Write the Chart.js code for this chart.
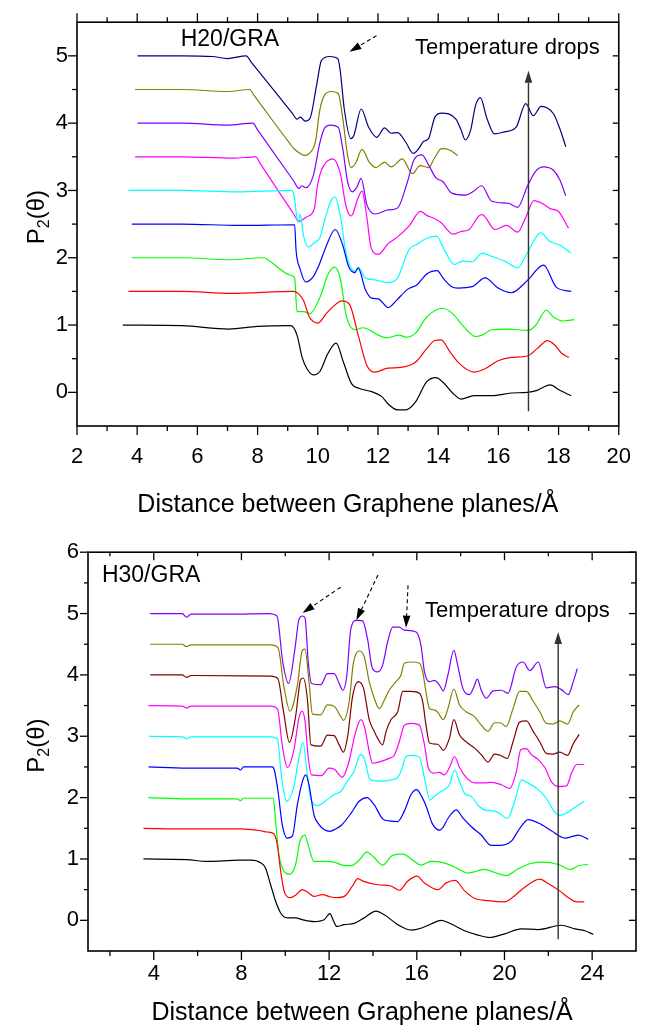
<!DOCTYPE html>
<html lang="en">
<head>
<meta charset="UTF-8">
<title>P2(θ) vs distance between graphene planes</title>
<script src="https://cdn.jsdelivr.net/npm/chart.js"></script>
<style>
  body { margin: 0; background: #fff; }
  canvas { position: absolute; left: 0; }
  #topChart { top: 0; }
  #bottomChart { top: 530px; }
</style>
</head>
<body>
<canvas id="topChart" width="649" height="530"></canvas>
<canvas id="bottomChart" width="649" height="497"></canvas>
<script>
// ---------- H20/GRA (top panel) ----------
const h20XTicks = [2, 4, 6, 8, 10, 12, 14, 16, 18, 20];
const h20XMinor = [3, 5, 7, 9, 11, 13, 15, 17, 19];
const h20YTicks = [0, 1, 2, 3, 4, 5];
const h20YMinor = [0.5, 1.5, 2.5, 3.5, 4.5];

const h20Navy = [[4.01,5.0],[5.5,5.0],[6.5,4.99],[7.0,4.96],[7.62,5.0],[7.8,4.9],[9.15,4.15],[9.31,4.06],[9.42,4.09],[9.58,4.03],[9.74,4.07],[9.96,4.56],[10.12,4.93],[10.39,4.99],[10.66,4.96],[10.74,4.8],[10.88,4.21],[11.1,3.77],[11.2,3.82],[11.44,4.21],[11.69,3.94],[11.96,3.79],[12.22,3.93],[12.44,3.85],[12.65,3.86],[12.92,3.72],[13.17,3.55],[13.35,3.62],[13.52,3.73],[13.68,3.77],[13.89,4.09],[14.11,4.15],[14.59,4.06],[14.76,3.9],[14.9,3.75],[15.08,3.9],[15.24,4.26],[15.4,4.38],[15.62,4.07],[15.87,3.84],[16.2,3.87],[16.59,3.94],[16.91,4.29],[17.16,4.11],[17.42,4.25],[17.83,4.14],[18.04,3.92],[18.24,3.65]];
const h20Olive = [[3.93,4.5],[5.5,4.5],[7.0,4.47],[7.73,4.5],[7.9,4.4],[9.05,3.71],[9.21,3.62],[9.58,3.52],[9.72,3.55],[9.92,3.72],[10.07,4.2],[10.23,4.42],[10.45,4.47],[10.68,4.44],[10.83,4.07],[10.99,3.52],[11.1,3.34],[11.25,3.4],[11.47,3.61],[11.71,3.42],[11.93,3.34],[12.22,3.42],[12.44,3.35],[12.81,3.47],[13.14,3.25],[13.4,3.37],[13.68,3.34],[13.89,3.49],[14.11,3.62],[14.38,3.6],[14.65,3.52]];
const h20Violet = [[4.01,4.0],[5.5,4.0],[7.0,3.97],[7.84,4.0],[8.0,3.9],[9.2,3.14],[9.37,3.03],[9.47,3.07],[9.6,3.04],[9.85,3.22],[10.07,3.71],[10.23,3.93],[10.42,3.97],[10.68,3.94],[10.83,3.62],[10.99,3.13],[11.15,2.98],[11.3,3.05],[11.44,3.18],[11.63,2.79],[11.9,2.65],[12.34,2.71],[12.65,2.74],[12.98,3.13],[13.19,3.45],[13.46,3.53],[13.68,3.38],[13.92,3.19],[14.16,3.13],[14.45,2.96],[14.92,2.93],[15.15,2.98],[15.44,3.07],[15.78,2.84],[16.32,2.81],[16.64,2.75],[16.96,3.06],[17.23,3.28],[17.5,3.35],[17.83,3.3],[18.04,3.16],[18.24,2.92]];
const h20Magenta = [[3.93,3.5],[5.5,3.5],[7.2,3.48],[7.94,3.5],[8.1,3.39],[9.2,2.65],[9.37,2.54],[9.64,2.61],[9.88,2.72],[10.0,3.1],[10.12,3.3],[10.28,3.42],[10.5,3.47],[10.75,3.25],[10.93,2.78],[11.11,2.62],[11.34,2.89],[11.47,2.99],[11.63,2.6],[11.77,2.15],[12.01,2.05],[12.34,2.21],[12.65,2.31],[13.03,2.47],[13.41,2.69],[13.62,2.63],[13.84,2.59],[14.1,2.52],[14.49,2.35],[14.76,2.39],[15.03,2.42],[15.35,2.62],[15.46,2.64],[15.89,2.42],[16.27,2.48],[16.64,2.38],[16.91,2.6],[17.18,2.85],[17.45,2.81],[17.72,2.73],[17.99,2.69],[18.33,2.44]];
const h20Cyan = [[3.71,3.0],[5.5,3.0],[7.3,2.98],[9.13,3.0],[9.22,2.9],[9.34,2.52],[9.42,2.64],[9.52,2.34],[9.69,2.16],[9.88,2.22],[10.07,2.3],[10.28,2.64],[10.45,2.86],[10.58,2.9],[10.74,2.64],[10.93,2.1],[11.1,1.85],[11.25,1.8],[11.36,1.85],[11.58,1.7],[11.9,1.67],[12.34,1.63],[12.65,1.7],[13.03,2.12],[13.3,2.2],[13.62,2.29],[13.94,2.32],[14.2,2.12],[14.54,1.9],[14.81,1.95],[15.13,1.94],[15.46,2.07],[15.78,2.02],[16.21,1.95],[16.64,1.85],[16.96,2.07],[17.4,2.37],[17.72,2.24],[18.04,2.19],[18.42,2.07]];
const h20Blue = [[3.82,2.5],[5.5,2.5],[7.4,2.48],[9.23,2.49],[9.28,2.1],[9.4,1.85],[9.6,1.64],[9.85,1.72],[10.05,1.9],[10.26,2.15],[10.58,2.42],[10.82,2.2],[11.04,1.85],[11.23,1.78],[11.34,1.85],[11.58,1.53],[11.79,1.4],[12.01,1.39],[12.34,1.26],[12.6,1.36],[12.98,1.53],[13.3,1.6],[13.62,1.76],[13.97,1.81],[14.16,1.7],[14.45,1.57],[14.65,1.55],[15.13,1.57],[15.56,1.7],[15.99,1.55],[16.43,1.48],[16.96,1.66],[17.5,1.89],[17.93,1.56],[18.42,1.5]];
const h20Green = [[3.82,2.0],[5.5,2.0],[7.05,1.97],[8.22,2.0],[8.4,1.95],[9.1,1.74],[9.23,1.7],[9.31,1.2],[9.53,1.2],[9.74,1.17],[10.07,1.41],[10.34,1.75],[10.55,1.86],[10.74,1.71],[10.93,1.17],[11.05,1.0],[11.25,0.93],[11.5,0.96],[12.01,0.85],[12.28,0.81],[12.71,0.85],[12.92,0.82],[13.25,0.88],[13.62,1.12],[14.15,1.25],[14.48,1.17],[14.86,0.97],[15.24,0.83],[15.46,0.85],[15.78,0.93],[16.37,0.94],[16.96,0.92],[17.23,0.99],[17.59,1.22],[17.83,1.12],[18.15,1.06],[18.53,1.08]];
const h20Red = [[3.71,1.5],[5.5,1.5],[7.1,1.47],[9.21,1.5],[9.37,1.46],[9.53,1.36],[9.72,1.12],[10.01,1.03],[10.28,1.17],[10.5,1.27],[10.8,1.36],[11.05,1.31],[11.36,0.82],[11.63,0.4],[11.9,0.3],[12.33,0.36],[12.76,0.37],[13.25,0.45],[13.62,0.65],[13.89,0.77],[14.1,0.78],[14.38,0.61],[14.7,0.43],[15.19,0.3],[15.56,0.35],[15.99,0.47],[16.43,0.52],[16.96,0.54],[17.29,0.65],[17.63,0.77],[17.88,0.7],[18.1,0.58],[18.34,0.52]];
const h20Black = [[3.52,1.0],[5.5,0.99],[7.05,0.94],[8.0,0.98],[9.1,0.99],[9.31,0.85],[9.48,0.52],[9.64,0.35],[9.85,0.26],[10.07,0.31],[10.34,0.58],[10.61,0.73],[10.85,0.45],[11.12,0.13],[11.36,0.06],[11.79,0.01],[12.12,-0.06],[12.33,-0.17],[12.65,-0.26],[12.92,-0.26],[13.25,-0.14],[13.62,0.16],[13.93,0.22],[14.16,0.15],[14.48,-0.01],[14.76,-0.1],[15.19,-0.05],[15.78,-0.05],[16.43,-0.01],[16.96,0.0],[17.29,0.03],[17.72,0.11],[18.04,0.03],[18.42,-0.05]];

// ---------- H30/GRA (bottom panel) ----------
const h30XTicks = [4, 8, 12, 16, 20, 24];
const h30XMinor = [2, 6, 10, 14, 18, 22];
const h30YTicks = [0, 1, 2, 3, 4, 5, 6];
const h30YMinor = [0.5, 1.5, 2.5, 3.5, 4.5, 5.5];

const h30Violet = [[3.84,5.0],[5.3,5.0],[5.49,4.94],[5.7,4.99],[7.5,4.99],[9.25,5.0],[9.62,4.96],[9.88,4.22],[10.15,3.86],[10.45,4.45],[10.62,4.9],[10.78,4.96],[10.9,4.93],[11.05,4.2],[11.2,3.86],[11.62,3.84],[11.92,4.02],[12.23,4.02],[12.46,3.86],[12.63,3.75],[12.8,3.97],[12.99,4.75],[13.25,4.89],[13.53,4.88],[13.75,4.59],[13.98,4.1],[14.21,4.05],[14.44,4.16],[14.67,4.54],[14.9,4.78],[15.2,4.78],[15.43,4.73],[15.97,4.7],[16.19,4.48],[16.35,4.05],[16.58,3.89],[16.81,3.91],[17.04,3.83],[17.21,3.74],[17.42,4.0],[17.69,4.4],[17.87,4.15],[18.1,3.78],[18.41,3.68],[18.6,3.8],[18.76,3.93],[18.94,3.75],[19.17,3.62],[19.48,3.74],[19.86,3.75],[20.16,3.7],[20.54,4.13],[20.85,4.21],[21.15,4.07],[21.54,4.21],[21.91,3.79],[22.3,3.81],[22.6,3.76],[22.91,3.68],[23.14,3.89],[23.32,4.1]];
const h30Olive = [[3.84,4.5],[5.3,4.5],[5.49,4.46],[5.7,4.49],[9.33,4.49],[9.67,4.44],[9.94,3.8],[10.22,3.41],[10.55,3.83],[10.78,4.4],[10.9,4.42],[11.08,3.9],[11.24,3.36],[11.62,3.35],[11.92,3.51],[12.23,3.49],[12.53,3.32],[12.66,3.26],[12.91,3.55],[13.11,4.2],[13.37,4.39],[13.6,4.3],[13.83,3.89],[14.06,3.62],[14.29,3.45],[14.52,3.59],[14.74,3.75],[15.05,3.89],[15.28,4.0],[15.43,4.19],[15.74,4.21],[16.12,4.19],[16.27,4.05],[16.42,3.72],[16.58,3.45],[16.81,3.43],[16.96,3.39],[17.21,3.27],[17.42,3.45],[17.69,3.77],[17.95,3.51],[18.25,3.4],[18.63,3.32],[18.94,3.18],[19.25,3.08],[19.55,3.22],[19.8,3.22],[20.08,3.16],[20.39,3.45],[20.69,3.73],[21.0,3.73],[21.31,3.57],[21.61,3.4],[21.91,3.21],[22.22,3.2],[22.52,3.25],[22.88,3.2],[23.14,3.4],[23.41,3.51]];
const h30DarkRed = [[3.84,4.0],[5.3,4.0],[5.49,3.96],[5.7,3.99],[9.33,3.98],[9.66,3.94],[9.92,3.4],[10.19,2.9],[10.47,3.32],[10.7,3.92],[10.82,3.95],[11.01,3.6],[11.17,2.86],[11.62,2.84],[11.92,3.02],[12.23,3.01],[12.46,2.86],[12.65,2.74],[12.85,3.01],[13.07,3.65],[13.32,3.89],[13.57,3.78],[13.83,3.27],[14.06,3.08],[14.21,2.97],[14.44,2.86],[14.6,3.08],[14.82,3.27],[15.13,3.4],[15.36,3.73],[15.74,3.73],[16.12,3.7],[16.27,3.56],[16.42,3.18],[16.58,2.89],[16.96,2.87],[17.21,2.77],[17.49,2.97],[17.69,3.27],[17.95,3.02],[18.25,2.91],[18.63,2.81],[18.94,2.7],[19.25,2.58],[19.55,2.71],[19.8,2.69],[20.13,2.64],[20.39,2.91],[20.69,3.23],[21.0,3.25],[21.31,3.08],[21.61,2.91],[21.91,2.72],[22.22,2.71],[22.52,2.74],[22.88,2.69],[23.14,2.88],[23.41,3.03]];
const h30Magenta = [[3.76,3.5],[5.3,3.49],[5.49,3.46],[5.7,3.49],[9.33,3.49],[9.65,3.44],[9.86,2.86],[10.1,2.49],[10.4,2.79],[10.62,3.29],[10.76,3.41],[10.9,3.25],[11.05,2.65],[11.2,2.37],[11.65,2.36],[12.0,2.48],[12.25,2.46],[12.6,2.33],[12.86,2.53],[13.22,3.08],[13.45,3.27],[13.63,3.13],[13.83,2.75],[13.98,2.56],[14.36,2.59],[14.74,2.64],[14.97,2.69],[15.2,2.91],[15.43,3.18],[15.74,3.21],[16.12,3.18],[16.35,2.86],[16.53,2.48],[16.81,2.4],[17.05,2.41],[17.25,2.37],[17.49,2.49],[17.72,2.67],[17.95,2.49],[18.25,2.33],[18.63,2.24],[19.09,2.24],[19.4,2.25],[19.86,2.21],[20.24,2.15],[20.54,2.42],[20.74,2.78],[21.0,2.8],[21.23,2.7],[21.54,2.62],[21.84,2.49],[22.14,2.26],[22.45,2.18],[22.83,2.19],[23.06,2.4],[23.29,2.54],[23.64,2.54]];
const h30Cyan = [[3.76,3.0],[5.3,2.99],[5.49,2.96],[5.7,2.99],[9.33,2.99],[9.64,2.96],[9.82,2.37],[10.06,1.94],[10.37,2.15],[10.62,2.64],[10.81,2.9],[10.99,2.43],[11.16,1.99],[11.47,1.87],[11.85,1.95],[12.23,2.05],[12.53,2.1],[12.84,2.27],[13.14,2.43],[13.42,2.7],[13.6,2.64],[13.83,2.32],[13.98,2.28],[14.44,2.27],[14.82,2.29],[15.1,2.32],[15.28,2.43],[15.51,2.67],[15.82,2.69],[16.12,2.66],[16.35,2.32],[16.6,1.96],[16.81,2.02],[17.11,2.1],[17.3,2.14],[17.49,2.21],[17.72,2.45],[17.95,2.26],[18.18,2.07],[18.48,2.02],[18.79,1.88],[19.09,1.8],[19.55,1.78],[19.86,1.72],[20.13,1.66],[20.47,1.94],[20.77,2.29],[21.07,2.24],[21.54,2.13],[21.91,1.99],[22.22,1.8],[22.52,1.71],[22.83,1.75],[23.21,1.84],[23.64,1.94]];
const h30Blue = [[3.76,2.5],[5.5,2.48],[7.8,2.48],[7.96,2.45],[8.1,2.5],[9.41,2.5],[9.5,2.45],[9.67,2.1],[9.86,1.56],[10.09,1.34],[10.32,1.37],[10.55,1.88],[10.78,2.26],[10.93,2.37],[11.08,2.21],[11.31,1.72],[11.54,1.56],[11.77,1.48],[12.04,1.45],[12.3,1.49],[12.56,1.55],[12.99,1.74],[13.37,1.94],[13.72,2.0],[14.06,1.88],[14.45,1.65],[14.74,1.62],[15.13,1.61],[15.43,1.78],[15.74,2.05],[15.99,2.13],[16.22,2.02],[16.45,1.84],[16.7,1.58],[17.05,1.47],[17.2,1.52],[17.42,1.66],[17.8,1.8],[18.1,1.67],[18.48,1.53],[18.94,1.39],[19.4,1.22],[19.8,1.22],[20.31,1.29],[20.7,1.5],[21.08,1.64],[21.69,1.56],[22.14,1.46],[22.75,1.34],[23.37,1.39],[23.82,1.32]];
const h30Green = [[3.76,2.0],[5.5,1.98],[7.8,1.98],[7.96,1.95],[8.1,1.99],[9.45,1.99],[9.56,1.61],[9.71,1.07],[9.94,0.8],[10.21,0.75],[10.47,0.91],[10.67,1.29],[10.89,1.39],[11.08,1.18],[11.31,0.96],[11.77,0.96],[12.23,0.95],[12.6,0.9],[12.99,0.89],[13.37,0.98],[13.72,1.11],[14.06,1.02],[14.44,0.9],[14.9,1.06],[15.36,1.08],[15.82,0.98],[16.19,0.9],[16.65,0.96],[17.19,0.94],[17.72,0.87],[18.33,0.77],[19.09,0.83],[19.55,0.78],[20.08,0.73],[20.62,0.84],[21.23,0.93],[21.84,0.95],[22.45,0.91],[23.03,0.83],[23.37,0.89],[23.82,0.91]];
const h30Red = [[3.53,1.5],[5.5,1.49],[7.9,1.49],[8.87,1.46],[9.17,1.44],[9.48,1.41],[9.63,1.24],[9.79,0.8],[9.97,0.45],[10.24,0.37],[10.47,0.41],[10.78,0.5],[11.01,0.46],[11.31,0.39],[11.69,0.42],[12.08,0.38],[12.38,0.37],[12.69,0.39],[13.07,0.56],[13.3,0.68],[13.6,0.63],[14.21,0.58],[14.82,0.56],[15.2,0.49],[15.59,0.64],[16.01,0.72],[16.35,0.61],[16.96,0.5],[17.34,0.61],[17.75,0.65],[18.18,0.48],[18.63,0.36],[19.25,0.32],[20.01,0.3],[20.39,0.38],[20.92,0.54],[21.61,0.67],[21.99,0.6],[22.52,0.48],[22.91,0.37],[23.29,0.3],[23.64,0.3]];
const h30Black = [[3.53,1.0],[5.5,0.99],[6.43,0.96],[7.9,0.98],[8.43,0.98],[8.87,0.94],[9.1,0.85],[9.33,0.58],[9.56,0.31],[9.79,0.12],[10.09,0.04],[10.47,0.04],[10.78,0.01],[11.31,-0.02],[11.77,0.01],[12.04,0.11],[12.2,-0.01],[12.35,-0.1],[12.69,-0.07],[13.14,-0.05],[13.6,0.04],[14.14,0.15],[14.52,0.09],[15.13,-0.07],[15.74,-0.16],[16.19,-0.13],[16.65,-0.06],[17.11,0.0],[17.57,-0.06],[18.18,-0.17],[18.79,-0.24],[19.32,-0.28],[20.01,-0.22],[20.77,-0.14],[21.54,-0.15],[22.6,-0.08],[23.21,-0.14],[23.67,-0.17],[24.05,-0.23]];

const FONT = '"Liberation Sans", Arial, sans-serif';

// frame, ticks on all four sides, titles and the arrow notes
const frameAndNotes = {
  id: 'frameAndNotes',
  afterDatasetsDraw(chart, args, o) {
    const { ctx, chartArea: a } = chart;
    const xs = chart.scales.x, ys = chart.scales.y;
    ctx.save();
    ctx.strokeStyle = '#000';
    ctx.fillStyle = '#000';
    ctx.lineWidth = 1.6;
    ctx.strokeRect(a.left, a.top, a.right - a.left, a.bottom - a.top);

    ctx.lineWidth = 1.3;
    const seg = (x1, y1, x2, y2) => { ctx.beginPath(); ctx.moveTo(x1, y1); ctx.lineTo(x2, y2); ctx.stroke(); };
    const t = o.ticks;
    o.xMajor.concat(o.xMinor).forEach(v => {
      const p = xs.getPixelForValue(v), m = o.xMajor.includes(v) ? 0 : 1;
      seg(p, a.bottom, p, a.bottom + t.bottom[m]);
      seg(p, a.top, p, a.top - t.top[m]);
    });
    o.yMajor.concat(o.yMinor).forEach(v => {
      const p = ys.getPixelForValue(v), m = o.yMajor.includes(v) ? 0 : 1;
      seg(a.left, p, a.left - t.left[m], p);
      seg(a.right, p, a.right + t.right[m], p);
    });

    // axis titles
    ctx.textAlign = 'center';
    ctx.textBaseline = 'middle';
    ctx.font = '25px ' + FONT;
    ctx.fillText('Distance between Graphene planes/Å', (a.left + a.right) / 2, a.bottom + o.xTitleGap);

    ctx.save();
    ctx.translate(o.yTitleX, (a.top + a.bottom) / 2 + o.yTitleShift);
    ctx.rotate(-Math.PI / 2);
    ctx.textAlign = 'left';
    ctx.textBaseline = 'alphabetic';
    ctx.font = '24px ' + FONT;
    const w1 = ctx.measureText('P').width;
    ctx.font = '16px ' + FONT;
    const w2 = ctx.measureText('2').width;
    ctx.font = '24px ' + FONT;
    const w3 = ctx.measureText('(θ)').width;
    const x0 = -(w1 + w2 + w3) / 2;
    ctx.fillText('P', x0, 8);
    ctx.font = '16px ' + FONT;
    ctx.fillText('2', x0 + w1, 13);
    ctx.font = '24px ' + FONT;
    ctx.fillText('(θ)', x0 + w1 + w2, 8);
    ctx.restore();

    // text notes
    o.labels.forEach(l => {
      ctx.font = l.size + 'px ' + FONT;
      ctx.fillText(l.text, xs.getPixelForValue(l.x), ys.getPixelForValue(l.y));
    });

    // arrows
    o.arrows.forEach(ar => {
      const x1 = xs.getPixelForValue(ar.from[0]), y1 = ys.getPixelForValue(ar.from[1]);
      const x2 = xs.getPixelForValue(ar.to[0]), y2 = ys.getPixelForValue(ar.to[1]);
      const ang = Math.atan2(y2 - y1, x2 - x1);
      const hl = 12, hw = 3.8;
      const bx = x2 - hl * Math.cos(ang), by = y2 - hl * Math.sin(ang);
      ctx.strokeStyle = ar.color;
      ctx.fillStyle = ar.color;
      ctx.lineWidth = ar.dash ? 1.1 : 1.4;
      ctx.setLineDash(ar.dash ? [4, 3] : []);
      seg(x1, y1, bx, by);
      ctx.setLineDash([]);
      ctx.beginPath();
      ctx.moveTo(x2, y2);
      ctx.lineTo(bx + hw * Math.sin(ang), by - hw * Math.cos(ang));
      ctx.lineTo(bx - hw * Math.sin(ang), by + hw * Math.cos(ang));
      ctx.closePath();
      ctx.fill();
    });
    ctx.restore();
  }
};

function makeChart(id, series, c) {
  return new Chart(document.getElementById(id), {
    type: 'line',
    data: {
      datasets: series.map(([pts, color]) => ({
        data: pts.map(([x, y]) => ({ x, y })),
        borderColor: color,
        borderWidth: 1.2,
        pointRadius: 0,
        fill: false,
        cubicInterpolationMode: 'monotone'
      }))
    },
    options: {
      responsive: false,
      animation: false,
      devicePixelRatio: 1,
      layout: { padding: c.padding },
      plugins: {
        legend: { display: false },
        tooltip: { enabled: false },
        frameAndNotes: c.notes
      },
      scales: {
        x: {
          type: 'linear', min: c.xMin, max: c.xMax,
          grid: { display: false, drawTicks: false },
          border: { display: false },
          ticks: { color: '#000', font: { family: FONT, size: 22 }, padding: c.xPad, autoSkip: false, maxRotation: 0 },
          afterBuildTicks: s => { s.ticks = c.notes.xMajor.map(v => ({ value: v })); },
          afterFit: s => { s.height = c.xHeight; }
        },
        y: {
          type: 'linear', min: c.yMin, max: c.yMax,
          grid: { display: false, drawTicks: false },
          border: { display: false },
          ticks: { color: '#000', font: { family: FONT, size: 22 }, padding: 9 },
          afterBuildTicks: s => { s.ticks = c.notes.yMajor.map(v => ({ value: v })); },
          afterFit: s => { s.width = c.yWidth; }
        }
      }
    },
    plugins: [frameAndNotes]
  });
}

makeChart('topChart', [
  [h20Black, '#000000'], [h20Red, '#ff0000'], [h20Green, '#00ff00'], [h20Blue, '#0000ff'],
  [h20Cyan, '#00ffff'], [h20Magenta, '#ff00ff'], [h20Violet, '#8000ff'], [h20Olive, '#808000'], [h20Navy, '#000080']
], {
  xMin: 2, xMax: 20, yMin: -0.5, yMax: 5.5,
  padding: { left: 0, right: 15, top: 20, bottom: 0 },
  yWidth: 77, xHeight: 104, xPad: 18,
  notes: {
    xMajor: h20XTicks, xMinor: h20XMinor, yMajor: h20YTicks, yMinor: h20YMinor,
    ticks: { bottom: [9, 5], top: [9, 5], left: [9, 5], right: [-6, -4] },
    xTitleGap: 79, yTitleX: 36, yTitleShift: -7,
    labels: [
      { text: 'H20/GRA', x: 7.08, y: 5.24, size: 23 },
      { text: 'Temperature drops', x: 16.3, y: 5.12, size: 22 }
    ],
    arrows: [
      { from: [11.95, 5.30], to: [11.05, 5.06], dash: true, color: '#000' },
      { from: [17.0, -0.28], to: [17.0, 4.78], dash: false, color: '#333' }
    ]
  }
});

makeChart('bottomChart', [
  [h30Black, '#000000'], [h30Red, '#ff0000'], [h30Green, '#00ff00'], [h30Blue, '#0000ff'],
  [h30Cyan, '#00ffff'], [h30Magenta, '#ff00ff'], [h30DarkRed, '#800000'], [h30Olive, '#808000'], [h30Violet, '#8000ff']
], {
  xMin: 1, xMax: 26, yMin: -0.5, yMax: 6,
  padding: { left: 0, right: 13, top: 20, bottom: 0 },
  yWidth: 88, xHeight: 76, xPad: 10,
  notes: {
    xMajor: h30XTicks, xMinor: h30XMinor, yMajor: h30YTicks, yMinor: h30YMinor,
    ticks: { bottom: [9, 5], top: [-8, -4], left: [8, 4], right: [-7, -5] },
    xTitleGap: 62, yTitleX: 36, yTitleShift: -6,
    labels: [
      { text: 'H30/GRA', x: 3.88, y: 5.61, size: 23 },
      { text: 'Temperature drops', x: 20.59, y: 5.04, size: 22 }
    ],
    arrows: [
      { from: [12.53, 5.43], to: [10.79, 5.01], dash: true, color: '#000' },
      { from: [14.23, 5.63], to: [13.24, 4.89], dash: true, color: '#000' },
      { from: [15.6, 5.46], to: [15.51, 4.77], dash: true, color: '#000' },
      { from: [22.45, -0.31], to: [22.45, 4.7], dash: false, color: '#333' }
    ]
  }
});
</script>
</body>
</html>
